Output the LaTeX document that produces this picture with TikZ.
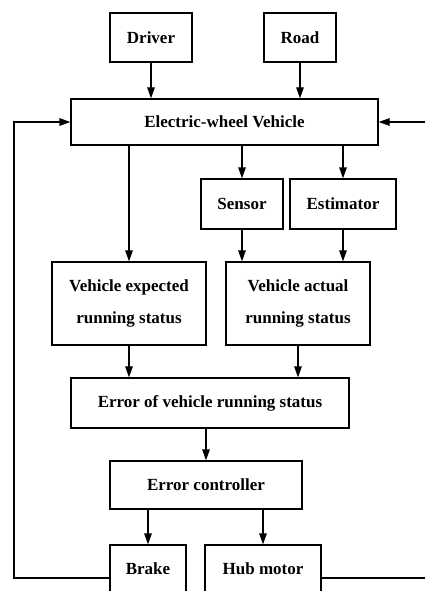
\documentclass[tikz,border=0pt]{standalone}
\usepackage{fontspec}
\setmainfont{Liberation Serif}
\usetikzlibrary{arrows.meta, positioning, calc}
\tikzset{
  % --- Blocks -----------------------------------------------
  blk/.style={draw, line width=1.3pt, fill=white, align=center,
    font=\fontsize{17}{32}\selectfont\bfseries, inner sep=2pt},
  arr/.style={-{Triangle[length=11pt, width=7.5pt]}, line width=1.3pt}
}
\begin{document}
\begin{tikzpicture}[x=1pt, y=-1pt]

  \path[use as bounding box, clip] (0,0) rectangle (425,591);

  % --- Inputs -------------------------------------------------
  \node[blk, minimum width=82pt, minimum height=49pt] (DRV) at (151,37.5) {Driver};
  \node[blk, minimum width=72pt, minimum height=49pt] (ROAD) at (300,37.5) {Road};
  \node[blk, minimum width=307pt, minimum height=46pt] (EWV) at (224.5,122) {Electric-wheel Vehicle};

  % --- Measurement ----------------------------------------------
  \node[blk, minimum width=82pt, minimum height=50pt] (SEN) at (242,204) {Sensor};
  \node[blk, minimum width=106pt, minimum height=50pt] (EST) at (343,204) {Estimator};
  \node[blk, minimum width=154pt, minimum height=83pt] (EXP) at (129,303.5) {Vehicle expected\\running status};
  \node[blk, minimum width=144pt, minimum height=83pt] (ACT) at (298,303.5) {Vehicle actual\\running status};

  % --- Control --------------------------------------------------
  \node[blk, minimum width=278pt, minimum height=50pt] (ERR) at (210,403) {Error of vehicle running status};
  \node[blk, minimum width=192pt, minimum height=48pt] (CTRL) at (206,485) {Error controller};
  \node[blk, minimum width=76pt, minimum height=48pt] (BRK) at (148,569) {Brake};
  \node[blk, minimum width=116pt, minimum height=48pt] (HUB) at (263,569) {Hub motor};

  \coordinate (LFT) at (14,0);
  \coordinate (RGT) at (430,0);

  % --- Connections ----------------------------------------------
  \draw[arr] (DRV) -- (DRV |- EWV.north);
  \draw[arr] (ROAD) -- (ROAD |- EWV.north);
  \draw[arr] (EWV.south -| EXP) -- (EXP.north);
  \draw[arr] (EWV.south -| SEN) -- (SEN.north);
  \draw[arr] (EWV.south -| EST) -- (EST.north);
  \draw[arr] (SEN.south) -- (SEN.south |- ACT.north);
  \draw[arr] (EST.south) -- (EST.south |- ACT.north);
  \draw[arr] (EXP.south) -- (EXP.south |- ERR.north);
  \draw[arr] (ACT.south) -- (ACT.south |- ERR.north);
  \draw[arr] (ERR.south -| CTRL) -- (CTRL.north);
  \draw[arr] (CTRL.south -| BRK) -- (BRK.north);
  \draw[arr] (CTRL.south -| HUB) -- (HUB.north);

  % --- Feedback -------------------------------------------------
  \draw[arr] ([yshift=-9pt]BRK.west) -| (LFT |- EWV.west) -- (EWV.west);
  \draw[arr] ([yshift=-9pt]HUB.east) -| (RGT |- EWV.east) -- (EWV.east);

\end{tikzpicture}
\end{document}
